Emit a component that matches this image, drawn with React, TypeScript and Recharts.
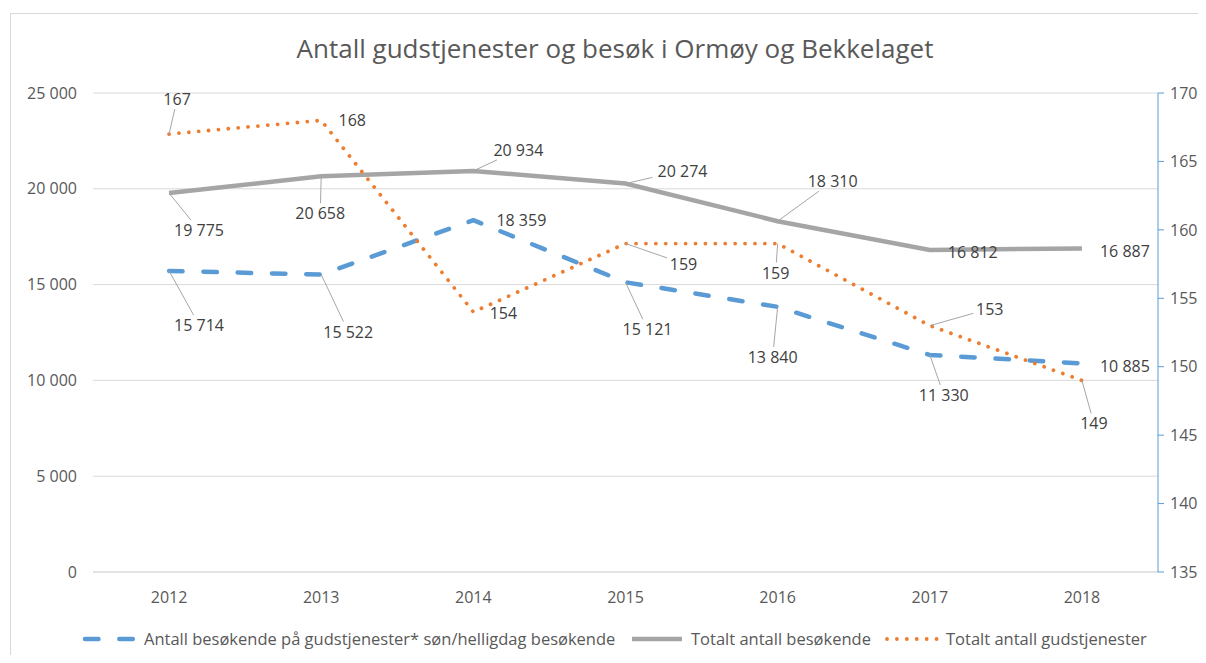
import { LineChart, Line, XAxis, YAxis, CartesianGrid } from 'recharts'

// Antall gudstjenester og besøk i Ormøy og Bekkelaget, 2012–2018.
// Besøkstall på venstre akse, antall gudstjenester på høyre akse.

const years = ['2012', '2013', '2014', '2015', '2016', '2017', '2018']
const besokendeSonHellig = [15714, 15522, 18359, 15121, 13840, 11330, 10885]
const totaltBesokende = [19775, 20658, 20934, 20274, 18310, 16812, 16887]
const totaltGudstjenester = [167, 168, 154, 159, 159, 153, 149]

const leftTicks = [0, 5000, 10000, 15000, 20000, 25000]
const rightTicks = [135, 140, 145, 150, 155, 160, 165, 170]

const title = 'Antall gudstjenester og besøk i Ormøy og Bekkelaget'
const nameBesokende = 'Antall besøkende på gudstjenester* søn/helligdag besøkende'
const nameTotalt = 'Totalt antall besøkende'
const nameGudstjenester = 'Totalt antall gudstjenester'

// where each data label sits relative to its point: [dx, dy, leader line]
type Pos = [number, number, boolean]
const blueLabelPos: Pos[] = [[30, 54, true], [27, 57, true], [48, 0, false], [22, 47, true], [-5, 50, true], [14, 40, true], [43, 3, false]]
const grayLabelPos: Pos[] = [[30, 37, true], [-1, 37, true], [45, -21, true], [57, -13, true], [55, -40, true], [43, 2, false], [43, 3, false]]
const orangeLabelPos: Pos[] = [[8, -35, true], [31, 0, false], [30, 1, false], [58, 20, true], [-2, 29, true], [60, -17, true], [12, 43, true]]

const BLUE = '#5b9bd5'
const GRAY = '#a5a5a5'
const ORANGE = '#ed7d31'
const TEXT = '#595959'
const FONT = '"Open Sans", "Noto Sans", sans-serif'

const data = years.map((year, i) => ({
  year,
  besokende: besokendeSonHellig[i],
  totalt: totaltBesokende[i],
  gudstjenester: totaltGudstjenester[i],
}))

const fmt = (v: number) => String(v).replace(/\B(?=(\d{3})+(?!\d))/g, ' ')

function PointLabel({ cx, cy, value, pos }: { cx: number; cy: number; value: number; pos: Pos }) {
  const [dx, dy, lead] = pos
  const text = fmt(value)
  const w = text.length * 9 + 6
  const h = 20
  const lx = cx + dx
  const ly = cy + dy
  let leader = null
  if (lead) {
    // clip the point→label segment at the label box
    const t = Math.min(1, (w / 2) / (Math.abs(dx) || 1e-6), (h / 2) / (Math.abs(dy) || 1e-6))
    leader = <line x1={cx} y1={cy} x2={lx - dx * t} y2={ly - dy * t} stroke="#a6a6a6" strokeWidth={1} />
  }
  return (
    <g>
      {leader}
      <text x={lx} y={ly} textAnchor="middle" dominantBaseline="central" fill="#404040" fontSize={16} fontFamily={FONT}>
        {text}
      </text>
    </g>
  )
}

const labelDot = (positions: Pos[]) => (p: any) => (
  <PointLabel key={`l-${p.index}`} cx={p.cx} cy={p.cy} value={p.value} pos={positions[p.index]} />
)

function LegendItem({ left, kind, label }: { left: number; kind: 'dash' | 'solid' | 'dot'; label: string }) {
  const stroke = kind === 'dash' ? BLUE : kind === 'solid' ? GRAY : ORANGE
  return (
    <div style={{ position: 'absolute', left, top: 0, display: 'flex', alignItems: 'center', gap: 6, whiteSpace: 'nowrap' }}>
      <svg width={56} height={10}>
        <line
          x1={3} y1={5} x2={53} y2={5}
          stroke={stroke}
          strokeWidth={kind === 'dot' ? 3.8 : 4.5}
          strokeLinecap={kind === 'solid' ? 'butt' : 'round'}
          strokeDasharray={kind === 'dash' ? '13.5 20.8' : kind === 'dot' ? '0.01 9.9' : undefined}
        />
      </svg>
      <span>{label}</span>
    </div>
  )
}

export default function App() {
  return (
    <div style={{ position: 'relative', width: 1190, height: 647, fontFamily: FONT, color: TEXT, overflow: 'hidden' }}>
      <div style={{ position: 'absolute', left: 2, top: 5, width: 1200, height: 680, border: '1px solid #d9d9d9', boxSizing: 'border-box' }} />
      <div style={{ position: 'absolute', left: 0, top: 22, width: 1214, textAlign: 'center', fontSize: 26, color: TEXT }}>
        {title}
      </div>
      <div style={{ position: 'absolute', left: 0, top: 0 }}>
        <LineChart width={1190} height={600} data={data} margin={{ top: 85, right: 0, bottom: 0, left: 0 }}>
          <CartesianGrid yAxisId="left" vertical={false} stroke="#d9d9d9" />
          <XAxis
            dataKey="year"
            scale="band"
            height={36}
            axisLine={{ stroke: '#d9d9d9' }}
            tickLine={false}
            tickSize={0}
            tickMargin={20}
            tick={{ fill: TEXT, fontSize: 16, fontFamily: FONT }}
          />
          <YAxis
            yAxisId="left"
            width={85}
            domain={[0, 25000]}
            ticks={leftTicks}
            tickFormatter={fmt}
            axisLine={false}
            tickLine={false}
            tickSize={0}
            tickMargin={16}
            tick={{ fill: TEXT, fontSize: 16, fontFamily: FONT }}
          />
          <YAxis
            yAxisId="right"
            orientation="right"
            width={40}
            domain={[135, 170]}
            ticks={rightTicks}
            axisLine={{ stroke: BLUE }}
            tickLine={{ stroke: BLUE }}
            tickSize={6}
            tickMargin={6}
            tick={{ fill: TEXT, fontSize: 16, fontFamily: FONT }}
          />
          <Line
            yAxisId="left"
            dataKey="besokende"
            name={nameBesokende}
            stroke={BLUE}
            strokeWidth={4.5}
            strokeLinecap="round"
            strokeDasharray="13.5 20.8"
            type="linear"
            dot={labelDot(blueLabelPos)}
            activeDot={false}
            isAnimationActive={false}
          />
          <Line
            yAxisId="left"
            dataKey="totalt"
            name={nameTotalt}
            stroke={GRAY}
            strokeWidth={4.5}
            type="linear"
            dot={labelDot(grayLabelPos)}
            activeDot={false}
            isAnimationActive={false}
          />
          <Line
            yAxisId="right"
            dataKey="gudstjenester"
            name={nameGudstjenester}
            stroke={ORANGE}
            strokeWidth={3.8}
            strokeLinecap="round"
            strokeDasharray="0.01 9.9"
            type="linear"
            dot={labelDot(orangeLabelPos)}
            activeDot={false}
            isAnimationActive={false}
          />
        </LineChart>
      </div>
      <div style={{ position: 'absolute', left: 0, top: 619, width: 1190, height: 22, fontSize: 16.5 }}>
        <LegendItem left={74} kind="dash" label={nameBesokende} />
        <LegendItem left={621} kind="solid" label={nameTotalt} />
        <LegendItem left={876} kind="dot" label={nameGudstjenester} />
      </div>
    </div>
  )
}
